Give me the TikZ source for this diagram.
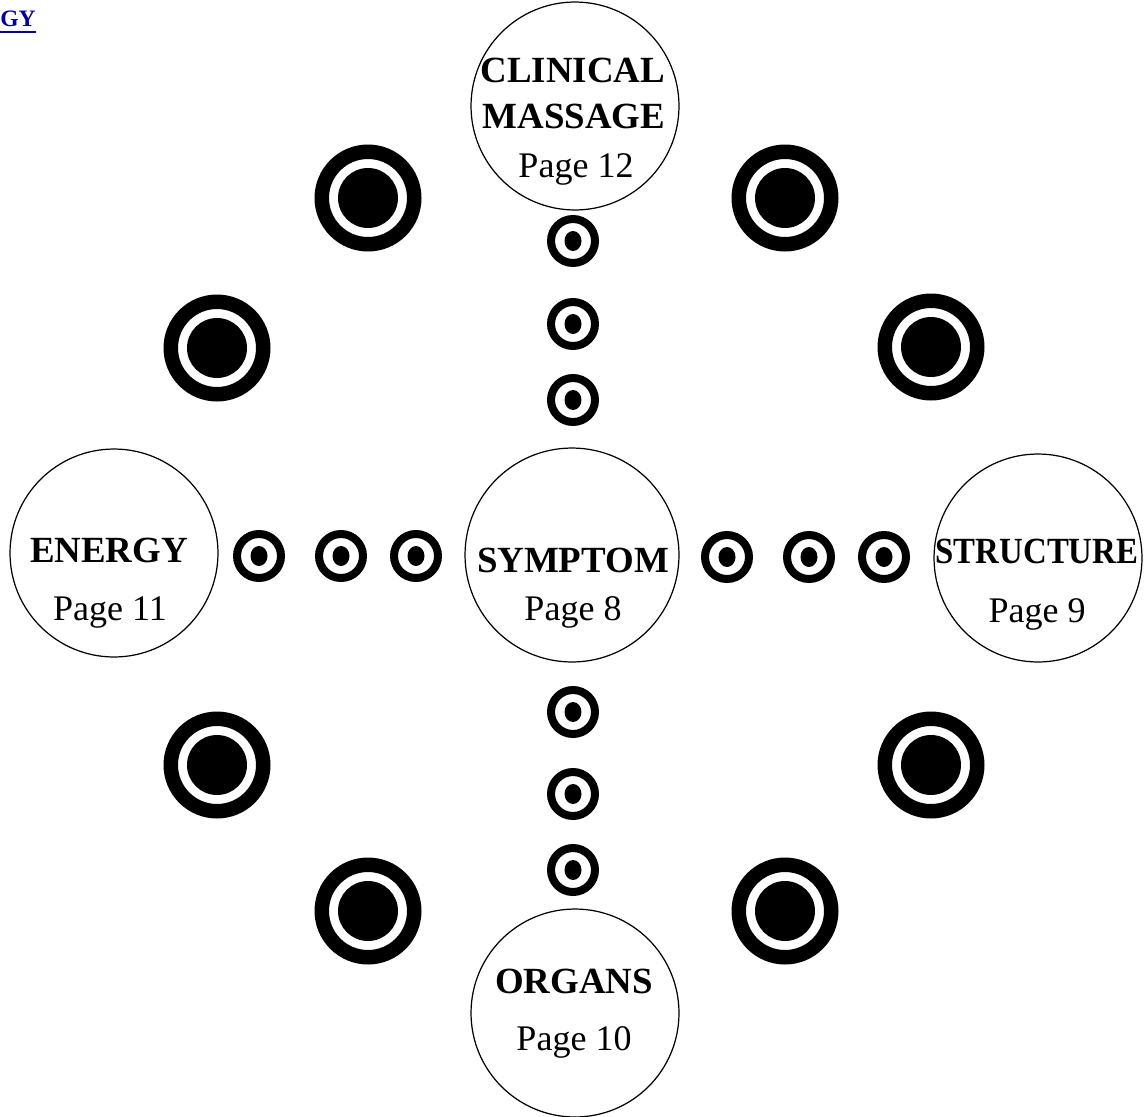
\documentclass[tikz,border=0pt]{standalone}
\usepackage{graphicx}
\usepackage{fontspec}
\setmainfont{Liberation Serif}
\definecolor{linkblue}{RGB}{0,0,160}
\begin{document}
\begin{tikzpicture}[x=0.02cm,y=-0.02cm,
  bubble/.style={circle,draw=black,line width=0.7pt,fill=white,inner sep=0pt,minimum size=4.16cm},
  lbl/.style={anchor=base,inner sep=0pt,font=\fontsize{20.5}{24}\selectfont},
  blbl/.style={anchor=base,inner sep=0pt,font=\fontsize{21}{24}\selectfont\bfseries},
  bigring/.style={draw=black,line width=0.29cm},
  smallring/.style={draw=black,line width=0.16cm}
]
\useasboundingbox (0,0) rectangle (1146,1116);
\clip (0,0) rectangle (1146,1116);

% large targets
\foreach \p in {(368,198),(785,198),(217,348),(931,347),(217,765),(931,765),(368,911),(785,911)}{
  \draw[bigring] \p circle[radius=0.925cm];
  \fill[black] \p circle[radius=0.6cm];
}
% small targets
\foreach \p in {(573,241),(573,324),(573,400),(573,712),(573,794),(573,870),
                (259,556),(341,556),(416,556),(727,557),(809,557),(884,557)}{
  \draw[smallring] \p circle[radius=0.44cm];
  \fill[black] \p ellipse[x radius=0.17cm,y radius=0.2cm];
}

% bubbles
\node[bubble] (cm) at (575,106) {};
\node[bubble,minimum size=4.28cm] (sym) at (572,555) {};
\node[bubble] (en) at (114,553) {};
\node[bubble] (st) at (1038,558) {};
\node[bubble] (or) at (575,1013) {};

% texts
\node[blbl] (cmA) at (573,82) {CLINICAL};
\node[blbl] (cmB) at (574,128) {MASSAGE};
\node[lbl] (cmC) at (576,177) {Page 12};

\node[blbl] (symA) at (573,572) {SYMPTOM};
\node[lbl] (symB) at (573,620) {Page 8};

\node[blbl] (enA) at (109,562) {ENERGY};
\node[lbl] (enB) at (110,620) {Page 11};

\node[blbl] (stA) at (1037,563) {\scalebox{0.89}[1]{STRUCTURE}};
\node[lbl] (stB) at (1037,622) {Page 9};

\node[blbl] (orA) at (574,993) {ORGANS};
\node[lbl] (orB) at (574,1050) {Page 10};

% link fragment
\node[anchor=base west,inner sep=0pt,text=linkblue,font=\fontsize{13.4}{16}\selectfont\bfseries] (gy) at (0,26) {GY};
\draw[linkblue,line width=0.04cm] ([yshift=-0.12cm]gy.base west) -- ([yshift=-0.12cm]gy.base east);
\end{tikzpicture}
\end{document}
